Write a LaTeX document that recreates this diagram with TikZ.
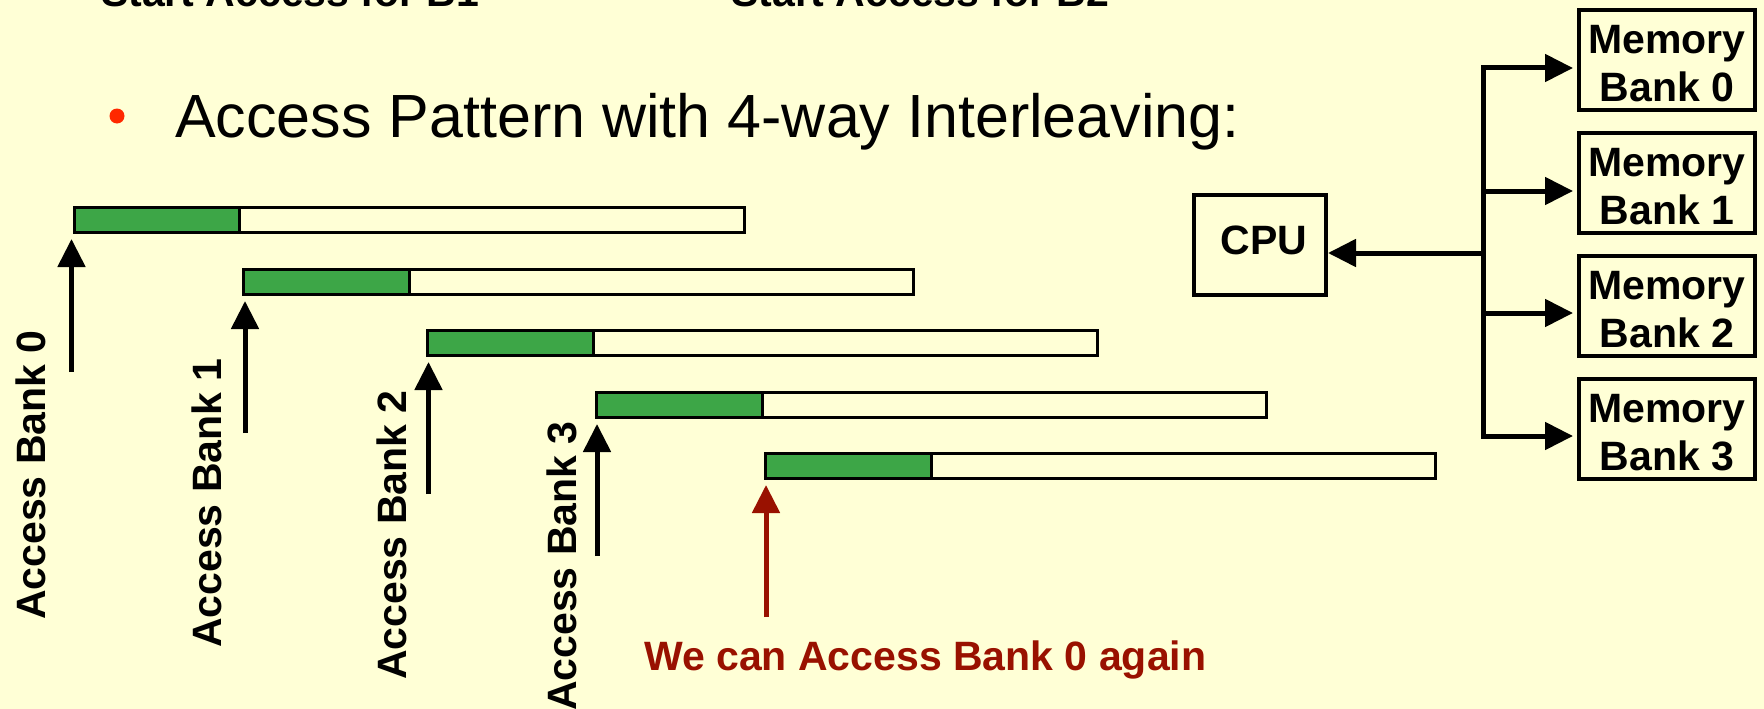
\documentclass[tikz,border=0pt]{standalone}
\usepackage{fontspec}
\setmainfont{Liberation Sans}
\usetikzlibrary{arrows.meta}

\definecolor{slidebg}{RGB}{255,255,214}
\definecolor{busygreen}{RGB}{61,166,71}
\definecolor{darkred}{RGB}{153,17,0}
\definecolor{bulletred}{RGB}{255,40,0}

\begin{document}
\begin{tikzpicture}[x=1pt,y=-1pt,
  lbl/.style={font=\fontsize{41}{48}\selectfont\bfseries, inner sep=0pt},
  boxtext/.style={font=\fontsize{41}{48}\selectfont\bfseries, align=center, inner sep=0pt},
  arr/.style={line width=5pt, -{Triangle[length=28pt,width=27pt]}},
  unitbox/.style={draw, line width=4pt, inner sep=0pt},
  membox/.style={unitbox, minimum width=176pt, minimum height=100pt},
  bar/.style={draw, line width=3pt, fill=slidebg, minimum width=670pt,
    minimum height=25pt, inner sep=0pt, anchor=north west,
    path picture={
      \fill[busygreen] (path picture bounding box.north west) rectangle
        ([xshift=165.5pt]path picture bounding box.south west);
      \draw[line width=3pt] ([xshift=165.5pt]path picture bounding box.north west)
        -- ([xshift=165.5pt]path picture bounding box.south west);
    }},
]
% canvas
\fill[slidebg] (0,0) rectangle (1764,709);
\useasboundingbox (0,0) rectangle (1764,709);
\clip (0,0) rectangle (1764,709);

% captions left over from the previous build
\node[lbl, anchor=base west] (st1) at (101,7) {Start Access for B1};
\node[lbl, anchor=base west] (st2) at (731,7) {Start Access for B2};

% bullet line
\node[circle, fill=bulletred, minimum size=15pt, inner sep=0pt] (bullet) at (117,116) {};
\node[anchor=base west, inner sep=0pt, font=\fontsize{61}{73}\selectfont] (title)
  at (175,137) {Access Pattern with 4-way Interleaving:};

% access timelines: green = busy part of each bank access
\node[bar] (b0) at (72.5,206) {};
\node[bar] (b1) at (242,268) {};
\node[bar] (b2) at (426,329) {};
\node[bar] (b3) at (595,391) {};
\node[bar] (b4) at (764,452) {};

% start markers
\coordinate (s0) at (71.5,372);
\coordinate (s1) at (245,433);
\coordinate (s2) at (428.5,494);
\coordinate (s3) at (597,556);
\coordinate (s4) at (766,617);
\draw[arr, shorten >=5pt] (s0) -- (s0 |- b0.south);
\draw[arr, shorten >=5pt] (s1) -- (s1 |- b1.south);
\draw[arr, shorten >=5pt] (s2) -- (s2 |- b2.south);
\draw[arr, shorten >=5pt] (s3) -- (s3 |- b3.south);
\draw[arr, darkred, shorten >=5pt] (s4) -- (s4 |- b4.south);

\node[lbl, rotate=90, anchor=base west] (l0) at (45,620) {Access Bank 0};
\node[lbl, rotate=90, anchor=base west] (l1) at (221,648) {Access Bank 1};
\node[lbl, rotate=90, anchor=base west] (l2) at (406,680) {Access Bank 2};
\node[lbl, rotate=90, anchor=base west] (l3) at (576,711) {Access Bank 3};

\node[lbl, text=darkred, anchor=base west] (again) at (644,670) {We can Access Bank 0 again};

% CPU and the four banks on a shared bus
\node[unitbox, minimum width=132pt, minimum height=100pt,
  label={[boxtext, xshift=4pt, yshift=5pt]center:CPU}] (cpu) at (1260,245) {};
\foreach \i/\y in {0/60,1/183,2/306,3/429}{
  \node[membox, label={[boxtext, yshift=-4pt]center:Memory\\Bank \i}] (m\i) at (1667,\y) {};
}

\coordinate (j0) at (1483.5,68);
\coordinate (j1) at (1483.5,191);
\coordinate (j2) at (1483.5,313);
\coordinate (j3) at (1483.5,436);
\coordinate (jc) at (1483.5,253);
\draw[line width=5pt, line cap=rect] (j0) -- (j3);
\foreach \i in {0,...,3}{
  \draw[arr, shorten >=4pt] (j\i) -- (j\i -| m\i.west);
}
\draw[arr] (jc) -- (jc -| cpu.east);
\end{tikzpicture}
\end{document}
